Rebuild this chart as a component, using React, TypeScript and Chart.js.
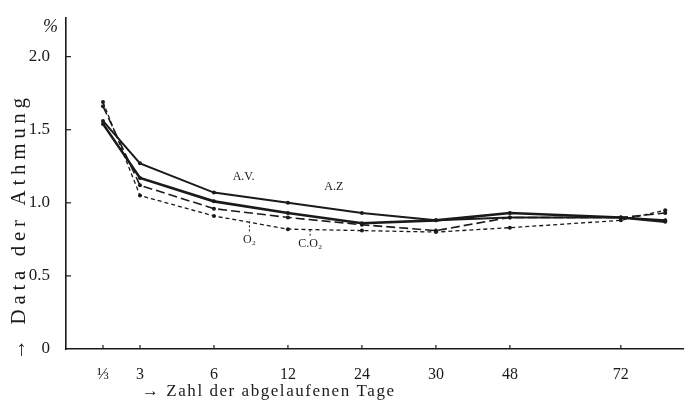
import React, { useEffect, useRef } from 'react';
import { Chart, registerables } from 'chart.js';
Chart.register(...registerables);

// x positions (scale units) of the day ticks and their labels
const tickPositions = [0.5, 1, 2, 3, 4, 5, 6, 7.5];
const tickLabels = ['⅓', '3', '6', '12', '24', '30', '48', '72'];
// sample positions of the measured points
const dayPositions = [0.5, 1, 2, 3, 4, 5, 6, 7.5, 8.1];

const avValues = [1.56, 1.27, 1.07, 1.0, 0.93, 0.88, 0.9, 0.9, 0.88];
const azValues = [1.54, 1.17, 1.01, 0.93, 0.86, 0.88, 0.93, 0.9, 0.87];
const o2Values = [1.66, 1.12, 0.96, 0.9, 0.85, 0.81, 0.9, 0.9, 0.93];
const co2Values = [1.69, 1.05, 0.91, 0.82, 0.81, 0.8, 0.83, 0.88, 0.95];

const yTickValues = [0, 0.5, 1, 1.5, 2];
const yUnit = '%';
const xTitle = '→ Zahl der abgelaufenen Tage';
const yTitle = '→ Data der Athmung';

const seriesLabels = [
  { text: 'A.V.', x: 2.4, y: 1.18, leader: null as null | number },
  { text: 'A.Z', x: 3.62, y: 1.11, leader: null as null | number },
  { text: 'O₂', x: 2.48, y: 0.75, leader: 0.89 },
  { text: 'C.O₂', x: 3.3, y: 0.72, leader: 0.815 },
];

const FONT = '"Liberation Serif", "DejaVu Serif", serif';
const INK = '#1a1a1a';

const toPoints = (vals: number[]) => vals.map((v, i) => ({ x: dayPositions[i], y: v }));

const overlay = {
  id: 'overlay',
  afterDraw(chart: any) {
    const { ctx, scales } = chart;
    const x = scales.x;
    const y = scales.y;
    ctx.save();
    ctx.strokeStyle = INK;
    ctx.fillStyle = INK;
    ctx.lineWidth = 1.2;
    // inward ticks
    yTickValues.forEach((v) => {
      if (v === 0) return;
      const py = y.getPixelForValue(v);
      ctx.beginPath();
      ctx.moveTo(x.left, py);
      ctx.lineTo(x.left + 5, py);
      ctx.stroke();
    });
    tickPositions.forEach((p) => {
      const px = x.getPixelForValue(p);
      ctx.beginPath();
      ctx.moveTo(px, y.bottom);
      ctx.lineTo(px, y.bottom - 4);
      ctx.stroke();
    });
    // unit
    ctx.font = `italic 18px ${FONT}`;
    ctx.textAlign = 'right';
    ctx.textBaseline = 'middle';
    ctx.fillText(yUnit, x.left - 8, y.getPixelForValue(2.2));

    // x title
    ctx.font = `17px ${FONT}`;
    ctx.textAlign = 'left';
    ctx.textBaseline = 'middle';
    const xStart = x.getPixelForValue(1) + 2;
    const xw = ctx.measureText(xTitle).width;
    const xTarget = 252;
    (ctx as any).letterSpacing = `${Math.max(0, (xTarget - xw) / (xTitle.length - 1))}px`;
    ctx.fillText(xTitle, xStart, 392);
    (ctx as any).letterSpacing = '0px';

    // y title
    ctx.save();
    ctx.font = `21px ${FONT}`;
    const yw = ctx.measureText(yTitle).width;
    const yTarget = 262;
    (ctx as any).letterSpacing = `${Math.max(0, (yTarget - yw) / (yTitle.length - 1))}px`;
    ctx.translate(19, 360);
    ctx.rotate(-Math.PI / 2);
    ctx.textAlign = 'left';
    ctx.textBaseline = 'middle';
    ctx.fillText(yTitle, 0, 0);
    ctx.restore();

    // series labels
    ctx.font = `12px ${FONT}`;
    ctx.textAlign = 'center';
    ctx.textBaseline = 'middle';
    ctx.lineWidth = 1;
    seriesLabels.forEach((l) => {
      const px = x.getPixelForValue(l.x);
      const py = y.getPixelForValue(l.y);
      ctx.fillText(l.text, px, py);
      if (l.leader !== null) {
        ctx.setLineDash([2, 2]);
        ctx.beginPath();
        ctx.moveTo(px, py - 8);
        ctx.lineTo(px, y.getPixelForValue(l.leader));
        ctx.stroke();
        ctx.setLineDash([]);
      }
    });
    ctx.restore();
  },
};

export default function App() {
  const ref = useRef<HTMLCanvasElement>(null);
  useEffect(() => {
    document.body.style.margin = '0';
    document.body.style.background = '#fff';
    const canvas = ref.current!;
    const base = {
      borderColor: INK,
      pointRadius: 2,
      pointBackgroundColor: INK,
      pointBorderColor: INK,
      pointBorderWidth: 0,
      tension: 0,
      fill: false,
    };
    const chart = new Chart(canvas, {
      type: 'line',
      data: {
        datasets: [
          { ...base, label: 'A.V.', data: toPoints(avValues), borderWidth: 2 },
          { ...base, label: 'A.Z', data: toPoints(azValues), borderWidth: 2.6 },
          { ...base, label: 'O₂', data: toPoints(o2Values), borderWidth: 1.6, borderDash: [9, 4] },
          { ...base, label: 'C.O₂', data: toPoints(co2Values), borderWidth: 1.3, borderDash: [4, 3] },
        ],
      },
      options: {
        animation: false,
        responsive: false,
        maintainAspectRatio: false,
        layout: { padding: { top: 5, right: 0, left: 0, bottom: 0 } },
        plugins: { legend: { display: false }, tooltip: { enabled: false } },
        scales: {
          x: {
            type: 'linear',
            min: 0,
            max: 8.34,
            grid: { display: false },
            border: { display: true, color: INK, width: 1.6 },
            afterBuildTicks: (s: any) => {
              s.ticks = tickPositions.map((v) => ({ value: v }));
            },
            afterFit: (s: any) => {
              s.height = 61;
            },
            ticks: {
              autoSkip: false,
              maxRotation: 0,
              padding: 8,
              color: INK,
              font: { family: FONT, size: 16 },
              callback: (v: any) => {
                const i = tickPositions.indexOf(Number(v));
                return i >= 0 ? tickLabels[i] : '';
              },
            },
          },
          y: {
            type: 'linear',
            min: 0,
            max: 2.263,
            grid: { display: false },
            border: { display: true, color: INK, width: 1.6 },
            afterBuildTicks: (s: any) => {
              s.ticks = yTickValues.map((v) => ({ value: v }));
            },
            afterFit: (s: any) => {
              s.width = 66;
            },
            ticks: {
              padding: 8,
              color: INK,
              font: { family: FONT, size: 17 },
              callback: (v: any) => (Number(v) === 0 ? '0' : Number(v).toFixed(1)),
            },
          },
        },
      },
      plugins: [overlay],
    } as any);
    return () => chart.destroy();
  }, []);
  return <canvas ref={ref} width={687} height={410} style={{ display: 'block' }} />;
}
